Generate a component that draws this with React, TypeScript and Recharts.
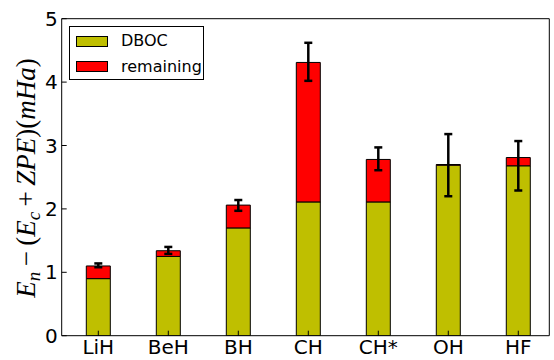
import React from 'react'
import { BarChart, Bar, XAxis, YAxis, ErrorBar, Legend } from 'recharts'

// values
const molecules = ['LiH', 'BeH', 'BH', 'CH', 'CH*', 'OH', 'HF']
const dboc = [0.9, 1.25, 1.7, 2.11, 2.11, 2.69, 2.68]
const remaining = [0.2, 0.09, 0.36, 2.2, 0.67, 0.01, 0.13]
// absolute ends of the error bars
const errLow = [1.08, 1.29, 1.97, 4.02, 2.61, 2.2, 2.29]
const errHigh = [1.14, 1.4, 2.14, 4.62, 2.97, 3.18, 3.07]
const yTicks = [0, 1, 2, 3, 4, 5]

const FONT = '"DejaVu Sans", sans-serif'
const DBOC_COLOR = '#bfbf00'
const REM_COLOR = '#ff0000'

const data = molecules.map((name, i) => {
  const total = dboc[i] + remaining[i]
  return {
    x: i,
    name,
    dboc: dboc[i],
    remaining: remaining[i],
    err: [total - errLow[i], errHigh[i] - total],
  }
})

const LegendBox = () => (
  <div
    style={{
      position: 'relative',
      width: 135,
      height: 54,
      border: '1px solid #000',
      background: '#fff',
      fontFamily: FONT,
      fontSize: 16,
      boxSizing: 'border-box',
    }}
  >
    {[
      { label: 'DBOC', color: DBOC_COLOR },
      { label: 'remaining', color: REM_COLOR },
    ].map((item, i) => (
      <div
        key={item.label}
        style={{ position: 'absolute', left: 6, top: 7 + i * 25.5, display: 'flex', alignItems: 'center' }}
      >
        <span
          style={{
            display: 'inline-block',
            width: 32,
            height: 11,
            background: item.color,
            border: '1px solid #000',
            boxSizing: 'border-box',
          }}
        />
        <span style={{ marginLeft: 13, lineHeight: '14px' }}>{item.label}</span>
      </div>
    ))}
  </div>
)

// mathtext-like y label
const YLabel = () => (
  <text
    transform="rotate(-90, 35, 178)"
    x={35}
    y={178}
    textAnchor="middle"
    fontFamily='"Liberation Serif", serif'
    fontSize={27}
    fill="#000"
  >
    <tspan fontStyle="italic">E</tspan>
    <tspan fontStyle="italic" fontSize={19} dy={5}>n</tspan>
    <tspan dy={-5}>{'\u2009−\u2009('}</tspan>
    <tspan fontStyle="italic">E</tspan>
    <tspan fontStyle="italic" fontSize={19} dy={5}>c</tspan>
    <tspan dy={-5}>{'\u2009+\u2009'}</tspan>
    <tspan fontStyle="italic">ZPE</tspan>
    <tspan>)(</tspan>
    <tspan fontStyle="italic">mHa</tspan>
    <tspan>)</tspan>
  </text>
)

export default function App() {
  return (
    <div style={{ position: 'absolute', left: 0, top: 0, width: 554, height: 360, background: '#fff' }}>
      <BarChart
        width={554}
        height={360}
        data={data}
        margin={{ top: 17.7, right: 3.7, bottom: 0.3, left: 0 }}
      >
        <XAxis
          xAxisId="b"
          type="number"
          dataKey="x"
          domain={[-0.523, 6.443]}
          ticks={[0, 1, 2, 3, 4, 5, 6]}
          tickFormatter={(v: number) => molecules[v]}
          height={24}
          axisLine={{ stroke: '#000', strokeWidth: 1 }}
          tickLine={{ stroke: '#000' }}
          tickSize={-5}
          tickMargin={9}
          tick={{ fill: '#000', fontSize: 20, fontFamily: FONT }}
          allowDataOverflow
        />
        <XAxis
          xAxisId="t"
          orientation="top"
          type="number"
          dataKey="x"
          domain={[-0.523, 6.443]}
          ticks={[0, 1, 2, 3, 4, 5, 6]}
          height={1}
          axisLine={{ stroke: '#000', strokeWidth: 1 }}
          tickLine={{ stroke: '#000' }}
          tickSize={-5}
          tick={false}
          allowDataOverflow
        />
        <YAxis
          yAxisId="l"
          domain={[0, 5]}
          ticks={yTicks}
          width={61.7}
          axisLine={{ stroke: '#000', strokeWidth: 1 }}
          tickLine={{ stroke: '#000' }}
          tickSize={-5}
          tickMargin={9}
          tick={{ fill: '#000', fontSize: 20, fontFamily: FONT }}
          label={{ content: () => <YLabel /> }}
          allowDataOverflow
        />
        <YAxis
          yAxisId="r"
          orientation="right"
          domain={[0, 5]}
          ticks={yTicks}
          width={1}
          axisLine={{ stroke: '#000', strokeWidth: 1 }}
          tickLine={{ stroke: '#000' }}
          tickSize={-5}
          tick={false}
          allowDataOverflow
        />
        <Legend
          verticalAlign="middle"
          align="center"
          layout="horizontal"
          content={() => <LegendBox />}
          wrapperStyle={{ position: 'absolute', left: 69, top: 26, width: 135, height: 54 }}
        />
        <Bar
          xAxisId="b"
          yAxisId="l"
          dataKey="dboc"
          stackId="s"
          fill={DBOC_COLOR}
          stroke="#000"
          strokeWidth={1}
          barSize={24}
          isAnimationActive={false}
        />
        <Bar
          xAxisId="b"
          yAxisId="l"
          dataKey="remaining"
          stackId="s"
          fill={REM_COLOR}
          stroke="#000"
          strokeWidth={1}
          barSize={24}
          isAnimationActive={false}
        >
          <ErrorBar dataKey="err" direction="y" width={4} stroke="#000" strokeWidth={2.5} />
        </Bar>
      </BarChart>
    </div>
  )
}
